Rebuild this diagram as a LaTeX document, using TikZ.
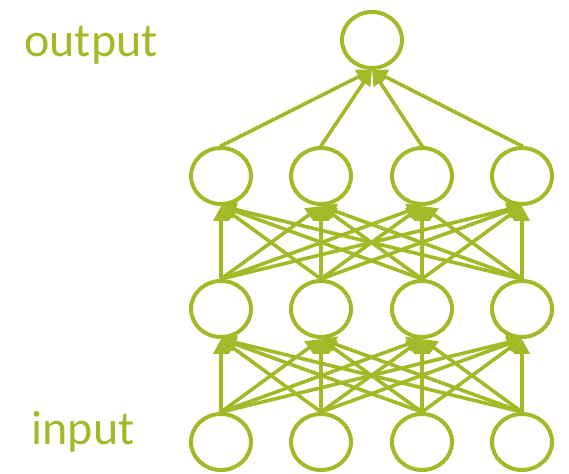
\documentclass[tikz,border=0pt]{standalone}
\usepackage{fontspec}
\setmainfont{Carlito}
\usetikzlibrary{shapes.geometric,arrows.meta}
\definecolor{nn}{RGB}{164,185,40}
\begin{document}
\begin{tikzpicture}[x=1pt,y=1pt,
  neuron/.style={ellipse,draw=nn,line width=4pt,minimum width=60pt,minimum height=56pt,inner sep=0pt},
  conn/.style={draw=nn,line width=3.6pt,-{Triangle[length=15pt,width=15pt]},shorten <=-1pt},
  lbl/.style={text=nn,font=\fontsize{48}{52}\selectfont,inner sep=0pt}]
\useasboundingbox (0,0) rectangle (569,473);
% output
\node[neuron] (o) at (372,433) {};
% hidden 2
\node[neuron] (a1) at (221,297) {};
\node[neuron] (a2) at (321,297) {};
\node[neuron] (a3) at (422,297) {};
\node[neuron] (a4) at (522,297) {};
% hidden 1
\node[neuron] (b1) at (221,164) {};
\node[neuron] (b2) at (321,164) {};
\node[neuron] (b3) at (422,164) {};
\node[neuron] (b4) at (522,164) {};
% input
\node[neuron] (c1) at (221,31) {};
\node[neuron] (c2) at (321,31) {};
\node[neuron] (c3) at (422,31) {};
\node[neuron] (c4) at (522,31) {};
\foreach \i in {1,...,4}{
  \foreach \j in {1,...,4}{
    \draw[conn] (c\i.north) -- (b\j.south);
    \draw[conn] (b\i.north) -- (a\j.south);
  }
  \draw[conn] (a\i.north) -- (o.south);
}
\node[lbl,anchor=base] (lo) at (91,416) {output};
\node[lbl,anchor=base] (li) at (83,28) {input};
\end{tikzpicture}
\end{document}
